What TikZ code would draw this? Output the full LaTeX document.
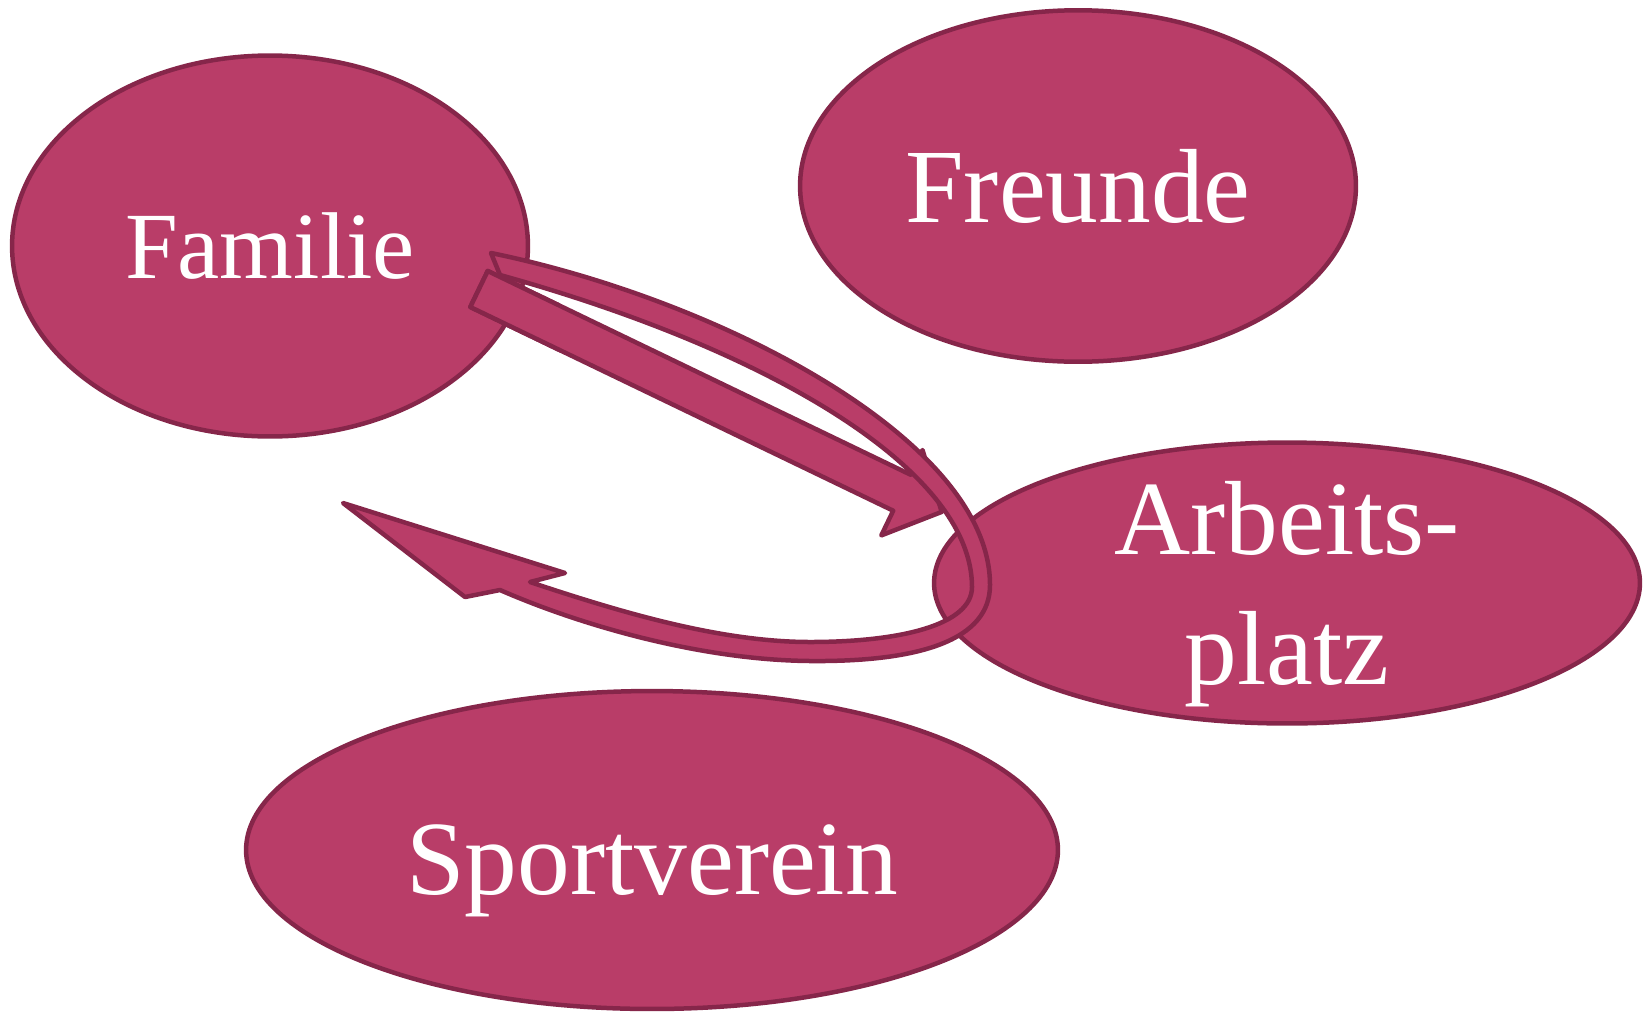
\documentclass[tikz,border=0pt]{standalone}
\usepackage{fontspec}
\setmainfont{Liberation Serif}
\usetikzlibrary{shapes.geometric}
\definecolor{rosefill}{RGB}{185,61,104}
\definecolor{roseline}{RGB}{134,38,74}
\tikzstyle{blob}=[%
  ellipse,
  draw=roseline,
  fill=rosefill,
  line width=0.09cm,
  inner sep=0pt,
  text=white,
  text depth=0pt,
  align=center,
  font=\fontsize{60}{74}\selectfont
]
\tikzstyle{blockarrow}=[%
  draw=roseline,
  fill=rosefill,
  line width=0.09cm,
  line join=round
]

\begin{document}
\begin{tikzpicture}[x=0.02cm, y=-0.02cm]
      \useasboundingbox (0,0) rectangle (1645,1011);
      \node[blob, minimum width=10.32cm, minimum height=7.62cm,
            font=\fontsize{54}{66}\selectfont] (familie) at (270,246) {Familie};
      \node[blob, minimum width=11.12cm, minimum height=7.03cm] (freunde) at (1078,186) {Freunde};
      \node[blob, minimum width=16.24cm, minimum height=6.36cm, text height=51pt] (sport) at (652,850) {Sportverein};
      \node[blob, minimum width=14.12cm, minimum height=5.62cm, inner ysep=-3pt] (arbeit) at (1287,583) {Arbeits-\\platz};
      % straight arrow, Familie -> Arbeitsplatz
      \draw[blockarrow] (487.7,271) -- (910.6,474.7) -- (922.5,450) -- (941.7,511.9)
        -- (881.3,535.4) -- (893.2,510.7) -- (470.3,307) -- cycle;
      % curved arrow round Arbeitsplatz and back
      \draw[blockarrow] (491,253)
        .. controls (720,300) and (990,440) .. (990,585)
        .. controls (990,640) and (920,662) .. (810,661)
        .. controls (700,660) and (580,625) .. (500,590)
        -- (465,597) -- (343,503) -- (565,573) -- (530,582)
        .. controls (620,612) and (720,642) .. (810,642)
        .. controls (900,642) and (972,625) .. (972,587)
        .. controls (972,470) and (770,350) .. (500,275)
        -- cycle;
      % tail of the straight arrow lies on top
      \begin{scope}
        \clip (0,0) rectangle (560,1011);
        \draw[blockarrow] (487.7,271) -- (910.6,474.7) -- (922.5,450) -- (941.7,511.9)
          -- (881.3,535.4) -- (893.2,510.7) -- (470.3,307) -- cycle;
      \end{scope}
    \end{tikzpicture}
\end{document}
